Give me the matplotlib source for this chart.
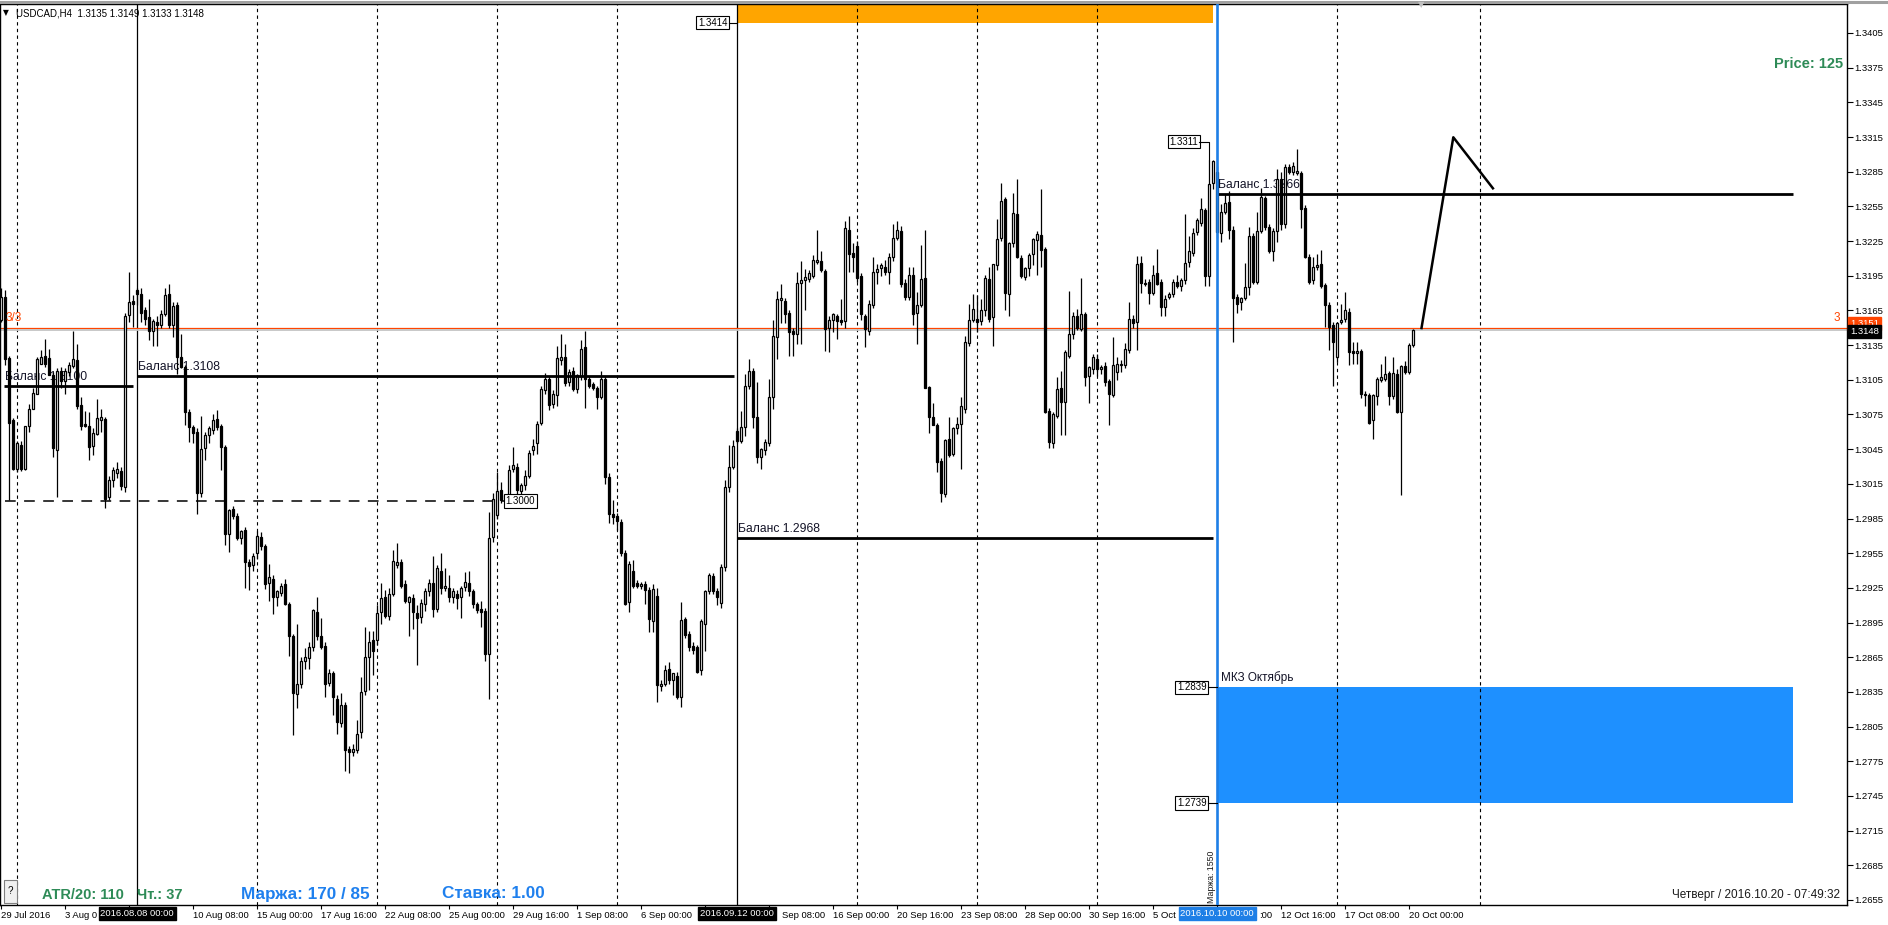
import numpy as np
import matplotlib
matplotlib.use('Agg')
import matplotlib.pyplot as plt
from matplotlib.patches import Rectangle

plt.rcParams['font.family'] = ['Liberation Sans', 'DejaVu Sans']

W, H = 1888, 925

# ---------------- data: USDCAD H4 candles, prices in 1e-4 units ----------------
opens = [
    13157,13177,13124,13070,13028,13049,13028,13065,13080,13093,
    13119,13126,13124,13109,13044,13113,13104,13112,13117,13122,
    13083,13067,13065,13048,13058,13070,13071,13004,13018,13024,
    13026,13012,13161,13173,13183,13179,13165,13159,13147,13155,
    13152,13162,13179,13152,13170,13125,13116,13077,13064,13060,
    13007,13046,13057,13062,13071,13065,13047,12972,12993,12987,
    12968,12975,12947,12945,12955,12969,12961,12929,12933,12917,
    12921,12928,12911,12883,12833,12842,12862,12864,12874,12904,
    12883,12875,12843,12851,12829,12808,12824,12786,12783,12785,
    12800,12836,12865,12880,12880,12904,12917,12901,12920,12945,
    12947,12928,12913,12916,12903,12900,12911,12922,12929,12907,
    12940,12925,12925,12917,12920,12917,12926,12929,12922,12911,
    12907,12905,12868,12969,12988,13010,13001,13003,13028,13030,
    13009,13014,13022,13044,13050,13068,13096,13106,13084,13092,
    13122,13125,13103,13113,13097,13108,13133,13106,13101,13098,
    13090,13106,13021,12989,12987,12982,12955,12913,12940,12929,
    12927,12928,12923,12896,12918,12840,12842,12855,12845,12849,
    12831,12898,12885,12875,12874,12854,12894,12922,12935,12922,
    12912,12943,13012,13030,13061,13052,13064,13100,13113,13073,
    13038,13044,13050,13090,13142,13174,13173,13163,13147,13145,
    13189,13191,13192,13195,13207,13208,13199,13150,13157,13160,
    13157,13156,13235,13215,13221,13195,13160,13147,13170,13198,
    13202,13203,13198,13211,13228,13234,13189,13177,13196,13163,
    13170,13193,13099,13073,13066,13035,13006,13054,13041,13063,
    13067,13080,13137,13157,13158,13156,13165,13192,13159,13204,
    13228,13261,13179,13223,13248,13210,13194,13202,13214,13226,
    13230,13218,13078,13050,13074,13098,13086,13126,13145,13160,
    13149,13162,13108,13114,13123,13114,13117,13104,13092,13112,
    13118,13118,13131,13158,13155,13206,13189,13190,13180,13197,
    13190,13168,13177,13179,13190,13186,13191,13207,13215,13233,
    13241,13252,13195,13275,13285,13232,13250,13259,13235,13177,
    13172,13176,13185,13229,13190,13234,13262,13237,13216,13234,
    13279,13240,13289,13285,13284,13284,13254,13211,13191,13203,
    13205,13187,13170,13152,13125,13155,13158,13164,13130,13128,
    13130,13093,13092,13070,13091,13105,13106,13111,13091,13110,
    13077,13117,13112,13135,
]
highs = [
    13184,13183,13126,13072,13052,13052,13065,13084,13098,13125,
    13131,13140,13132,13112,13115,13116,13115,13120,13147,13136,
    13090,13078,13077,13063,13088,13080,13073,13022,13030,13034,
    13030,13163,13198,13178,13184,13184,13168,13175,13158,13160,
    13165,13184,13188,13172,13172,13145,13118,13080,13066,13063,
    13074,13060,13065,13075,13079,13067,13049,12993,12996,12990,
    12975,12978,12950,12955,12974,12973,12963,12946,12936,12923,
    12929,12933,12913,12885,12894,12865,12873,12878,12907,12917,
    12899,12878,12855,12853,12832,12834,12826,12788,12790,12811,
    12848,12891,12888,12888,12910,12929,12923,12925,12958,12964,
    12950,12932,12918,12920,12910,12915,12925,12933,12953,12945,
    12955,12942,12936,12925,12923,12927,12939,12940,12924,12913,
    12914,12908,12991,13007,13025,13017,13006,13031,13047,13033,
    13016,13027,13044,13054,13069,13100,13111,13108,13096,13134,
    13145,13136,13114,13116,13110,13139,13147,13108,13103,13100,
    13113,13108,13024,13001,12990,12985,12958,12948,12949,12932,
    12930,12931,12926,12928,12925,12845,12858,12861,12851,12852,
    12913,12900,12888,12878,12876,12898,12923,12938,12938,12925,
    12946,13018,13049,13053,13063,13078,13110,13123,13115,13103,
    13046,13054,13106,13157,13182,13188,13176,13165,13150,13198,
    13208,13201,13200,13213,13235,13216,13201,13160,13163,13162,
    13175,13242,13247,13223,13225,13197,13162,13174,13211,13205,
    13206,13209,13215,13240,13242,13238,13192,13203,13203,13181,
    13222,13235,13100,13085,13068,13037,13054,13073,13064,13073,
    13090,13143,13171,13179,13178,13175,13196,13203,13205,13244,
    13275,13263,13224,13267,13279,13213,13203,13215,13228,13234,
    13270,13220,13081,13077,13107,13113,13131,13182,13164,13166,
    13193,13164,13117,13127,13127,13118,13120,13106,13142,13125,
    13122,13137,13172,13161,13212,13212,13192,13192,13204,13218,
    13192,13178,13181,13192,13196,13193,13248,13229,13236,13245,
    13262,13254,13295,13295,13290,13257,13266,13268,13238,13179,
    13177,13206,13237,13232,13250,13271,13264,13240,13236,13287,
    13285,13292,13292,13293,13305,13286,13256,13214,13211,13214,
    13217,13189,13172,13155,13155,13171,13181,13167,13138,13138,
    13132,13095,13094,13093,13107,13119,13126,13113,13125,13114,
    13118,13121,13137,13149,
]
lows = [
    13155,13118,13001,13027,13025,13026,13027,13060,13080,13093,
    13119,13116,13109,13038,13004,13098,13093,13108,13115,13080,
    13062,13064,13036,13040,13057,13060,12994,13001,13012,13020,
    13010,13008,13155,13151,13170,13155,13152,13139,13134,13134,
    13150,13160,13150,13142,13110,13115,13066,13051,13050,12989,
    13004,13036,13050,13058,13062,13027,12962,12956,12985,12966,
    12963,12925,12923,12940,12950,12958,12924,12914,12902,12909,
    12918,12910,12866,12798,12821,12838,12855,12855,12870,12880,
    12872,12831,12840,12815,12799,12805,12767,12765,12780,12782,
    12795,12832,12837,12850,12876,12894,12899,12897,12918,12942,
    12925,12912,12883,12889,12858,12895,12905,12918,12900,12904,
    12920,12922,12913,12912,12907,12899,12922,12918,12908,12903,
    12891,12862,12829,12965,12985,12998,12995,13000,13025,13005,
    13005,13010,13020,13040,13041,13066,13093,13079,13081,13082,
    13118,13100,13100,13095,13094,13105,13081,13098,13096,13080,
    13088,13015,12981,12980,12975,12953,12910,12904,12925,12925,
    12924,12911,12887,12887,12826,12836,12840,12842,12832,12829,
    12822,12882,12870,12868,12851,12850,12870,12920,12920,12910,
    12908,12940,13008,13028,13050,13050,13056,13097,13063,13033,
    13028,13040,13048,13080,13123,13154,13154,13126,13126,13136,
    13136,13165,13190,13193,13205,13198,13130,13129,13146,13140,
    13152,13150,13198,13198,13190,13157,13133,13144,13167,13188,
    13195,13196,13188,13208,13226,13185,13174,13174,13152,13136,
    13168,13098,13059,13066,13025,12999,13004,13038,13039,13058,
    13028,13076,13134,13155,13146,13152,13160,13155,13134,13200,
    13225,13165,13160,13220,13210,13193,13191,13195,13204,13196,
    13203,13076,13046,13046,13072,13057,13057,13124,13140,13148,
    13147,13100,13085,13110,13108,13110,13100,13066,13090,13105,
    13112,13115,13128,13150,13131,13180,13186,13171,13178,13187,
    13160,13160,13175,13177,13184,13182,13188,13203,13212,13230,
    13238,13186,13186,13270,13228,13224,13248,13227,13138,13163,
    13165,13174,13178,13188,13188,13232,13235,13215,13208,13224,
    13235,13236,13283,13282,13282,13236,13210,13188,13188,13200,
    13184,13151,13131,13100,13120,13153,13155,13118,13119,13119,
    13089,13082,13067,13054,13083,13103,13104,13083,13088,13076,
    13005,13110,13110,13133,
]
closes = [
    13177,13123,13068,13028,13050,13028,13065,13080,13094,13123,
    13125,13119,13109,13046,13113,13104,13113,13118,13123,13082,
    13065,13065,13047,13059,13072,13073,13002,13018,13027,13028,
    13013,13160,13172,13171,13179,13163,13158,13147,13156,13152,
    13162,13178,13152,13169,13125,13116,13077,13064,13059,13007,
    13045,13057,13063,13070,13064,13047,12972,12992,12987,12968,
    12974,12947,12944,12953,12970,12961,12928,12934,12917,12922,
    12927,12911,12883,12834,12842,12862,12865,12874,12906,12883,
    12874,12842,12851,12831,12809,12824,12785,12783,12786,12799,
    12835,12865,12878,12870,12903,12916,12901,12920,12948,12947,
    12927,12914,12917,12904,12899,12912,12922,12929,12907,12942,
    12925,12927,12917,12922,12916,12925,12930,12922,12911,12906,
    12904,12868,12968,13002,13009,13001,13005,13027,13031,13010,
    13014,13022,13042,13048,13067,13097,13106,13083,13093,13124,
    13125,13102,13112,13097,13109,13132,13106,13100,13098,13090,
    13106,13021,12989,12986,12983,12955,12911,12946,12927,12927,
    12928,12923,12898,12924,12841,12842,12854,12845,12851,12831,
    12897,12884,12874,12871,12852,12896,12922,12936,12922,12917,
    12943,13012,13030,13048,13052,13064,13100,13113,13073,13038,
    13045,13051,13090,13143,13175,13176,13162,13146,13145,13189,
    13191,13194,13197,13209,13209,13200,13149,13157,13162,13156,
    13155,13236,13214,13211,13193,13162,13149,13171,13198,13201,
    13204,13198,13211,13228,13235,13188,13177,13196,13162,13170,
    13192,13098,13073,13066,13034,13007,13053,13040,13063,13067,
    13082,13138,13157,13166,13155,13165,13193,13158,13205,13227,
    13260,13180,13223,13249,13211,13195,13202,13213,13227,13231,
    13217,13077,13051,13075,13097,13086,13129,13145,13160,13150,
    13162,13107,13116,13125,13114,13116,13103,13093,13118,13119,
    13119,13132,13158,13154,13205,13189,13188,13180,13196,13188,
    13168,13175,13179,13190,13186,13191,13206,13216,13232,13243,
    13253,13195,13274,13294,13233,13250,13258,13235,13176,13171,
    13176,13185,13229,13190,13234,13263,13237,13216,13234,13279,
    13240,13289,13285,13290,13286,13253,13211,13190,13203,13204,
    13186,13170,13151,13138,13154,13157,13165,13129,13128,13130,
    13093,13092,13068,13092,13106,13107,13110,13091,13111,13077,
    13117,13112,13135,13148,
]

# time axis labels (every 16 H4 bars); labels partly covered by the date tags
time_label_bars = list(range(0, 353, 16))
time_labels = ["29 Jul 2016", "3 Aug 0", "", "10 Aug 08:00", "15 Aug 00:00",
               "17 Aug 16:00", "22 Aug 08:00", "25 Aug 00:00", "29 Aug 16:00", "1 Sep 08:00",
               "6 Sep 00:00", "", "", "16 Sep 00:00", "20 Sep 16:00",
               "23 Sep 08:00", "28 Sep 00:00", "30 Sep 16:00", "5 Oct", "",
               "12 Oct 16:00", "17 Oct 08:00", "20 Oct 00:00"]
partial_labels = [(195.2, "Sep 08:00"), (314.4, ":00")]

price_ticks = [1.2655 + 0.003 * k for k in range(26)]

week_separators = [4, 64, 94, 124, 154, 214, 244, 274, 334, 369.7]
solid_vlines = [34, 184]
blue_vline = 304
vline_tags = [(34, "2016.08.08 00:00", "black"), (184, "2016.09.12 00:00", "black"),
              (304, "2016.10.10 00:00", "#1E7FE6")]

balances = [(0.7, 33.0, 1.3100, "Баланс 1.3100"), (34.0, 183.2, 1.3108, "Баланс 1.3108"),
            (184.0, 302.8, 1.2968, "Баланс 1.2968"), (304.0, 448.0, 1.3266, "Баланс 1.3266")]
level_3000 = 1.3000
red_level = 1.3150
bid = 1.3148
orange_zone = (184.0, 302.8, 1.3414, 1.3460)
blue_zone = (304.0, 448.0, 1.2739, 1.2839)
forecast_x = [355.0, 363.0, 373.1]
forecast_p = [1.31487, 1.33148, 1.32698]

# ---------------- figure ----------------
fig = plt.figure(figsize=(W / 100, H / 100), dpi=100)
fig.patch.set_facecolor('white')
ax = fig.add_axes([0, 20 / H, 1847 / W, 901 / H])
ax.set_facecolor('white')

x0, x1 = -1.3 / 4, (1847 - 1.3) / 4
ax.set_xlim(x0, x1)
ax.set_ylim(1.3405 - 872 / 11560, 1.3405 + 29 / 11560)

O = np.array(opens) / 1e4
Hh = np.array(highs) / 1e4
L = np.array(lows) / 1e4
C = np.array(closes) / 1e4
n = len(C)
xs = np.arange(n)
up = C >= O

# zones
rx0, rx1, ry0, ry1 = orange_zone
ax.add_patch(Rectangle((rx0, ry0), rx1 - rx0, ry1 - ry0, facecolor='#FFA500', edgecolor='none', zorder=1))
bx0, bx1, by0, by1 = blue_zone
ax.add_patch(Rectangle((bx0, by0), bx1 - bx0, by1 - by0, facecolor='#1E90FF', edgecolor='none', zorder=1))

# vertical lines
for v in week_separators:
    ax.axvline(v, color='black', lw=0.8, ls=(0, (3, 3)), zorder=1)
for v in solid_vlines:
    ax.axvline(v, color='black', lw=0.9, zorder=1)
ax.axvline(blue_vline, color='#1E7FE6', lw=1.9, zorder=6)

# horizontal price lines
ax.axhline(red_level, color='#FF4500', lw=0.9, zorder=2)
ax.axhline(bid, color='#C4C4C4', lw=1.3, zorder=2)

# balance texts under candles
for (a, b, p, lab) in balances:
    ax.text(a + 0.3, p + 0.00078, lab, fontsize=8.7, color='#141428', ha='left', va='center', zorder=2)

# candles
ax.vlines(xs, L, Hh, colors='black', linewidth=0.9, zorder=3)
body_lo = np.minimum(O, C)
body_h = np.maximum(np.abs(C - O), 0.00002)
ax.bar(xs, body_h, bottom=body_lo, width=0.55, color=np.where(up, 'white', 'black'),
       edgecolor='black', linewidth=0.9, zorder=4)

# balance lines
for (a, b, p, lab) in balances:
    ax.hlines(p, a, b, color='black', lw=2.0, zorder=5)
ax.hlines(level_3000, 0.8, 125.7, color='black', lw=1.1, linestyles=(0, (7, 5.5)), zorder=5)

# forecast polyline
ax.plot(forecast_x, forecast_p, color='black', lw=1.8, zorder=6, solid_capstyle='butt')

# price tag boxes
tag_box = dict(boxstyle='square,pad=0.18', fc='white', ec='black', lw=0.8)
def tag(xp, p, s, ha):
    ax.text(xp, p, s, fontsize=7, ha=ha, va='center', bbox=tag_box, zorder=8, clip_on=False)

tag(181.6, 1.3414, "1.3414", 'right')
ax.plot([181.9, 184], [1.3414, 1.3414], color='black', lw=0.8, zorder=8)
tag(299.2, 1.3311, "1.3311", 'right')
ax.plot([299.5, 302, 302], [1.3311, 1.3311, 1.32955], color='black', lw=0.8, zorder=8)
tag(126.0, level_3000, "1.3000", 'left')
tag(301.3, 1.2839, "1.2839", 'right')
ax.plot([301.7, 304], [1.2839, 1.2839], color='black', lw=0.8, zorder=8)
tag(301.3, 1.2739, "1.2739", 'right')
ax.plot([301.7, 304], [1.2739, 1.2739], color='black', lw=0.8, zorder=8)

ax.text(305.0, 1.2839 + 0.00085, "МКЗ Октябрь", fontsize=8.5, color='#141428', ha='left', va='center', zorder=8)

# axes styling
for s in ax.spines.values():
    s.set_color('black')
    s.set_linewidth(1.0)
ax.yaxis.tick_right()
ax.set_yticks(price_ticks)
ax.set_yticklabels([f"{t:.4f}" for t in price_ticks])
ax.tick_params(axis='y', which='both', left=False, right=True, labelleft=False, labelright=True,
               direction='out', length=4, width=0.8, pad=1.5, labelsize=6.8, colors='black')
ax.set_xticks(time_label_bars)
ax.set_xticklabels(time_labels)
ax.tick_params(axis='x', direction='out', length=3, width=0.8, pad=1.5, labelsize=6.8)
for t in ax.get_xticklabels():
    t.set_horizontalalignment('left')

xt = ax.get_xaxis_transform()
for (v, s) in partial_labels:
    ax.text(v, -0.0065, s, transform=xt, fontsize=6.8, ha='left', va='top', clip_on=False)

# highlighted time tags on x axis
for (v, s, col) in vline_tags:
    ax.text(v, -0.0045, s, transform=xt, fontsize=6.8, color='white', ha='center', va='top',
            bbox=dict(boxstyle='square,pad=0.2', fc=col, ec=col), zorder=20, clip_on=False)

# ---------------- figure-level texts ----------------
def fx(px):
    return px / W
def fy(py):
    return 1 - py / H

fig.add_artist(plt.Line2D([0, 1], [fy(1.5), fy(1.5)], color='#A0A0A0', lw=2.2))
fig.text(fx(3), fy(13), "▼", fontsize=5.5, family=['DejaVu Sans'], va='center', ha='left')
fig.text(fx(16), fy(13), "USDCAD,H4  1.3135 1.3149 1.3133 1.3148", fontsize=7, va='center', ha='left')
fig.text(fx(1421), fy(5), "▼", fontsize=6, family=['DejaVu Sans'], color='#C0C0C0', va='center', ha='center')

fig.text(fx(1843), fy(64), "Price: 125", fontsize=10.5, fontweight='bold', color='#2E8B57', ha='right', va='center')
fig.text(fx(42), fy(895), "ATR/20: 110", fontsize=10.5, fontweight='bold', color='#2E8B57', ha='left', va='center')
fig.text(fx(137), fy(895), "Чт.: 37", fontsize=10.5, fontweight='bold', color='#2E8B57', ha='left', va='center')
fig.text(fx(241), fy(894), "Маржа: 170 / 85", fontsize=12.3, fontweight='bold', color='#1F80EE', ha='left', va='center')
fig.text(fx(442), fy(894), "Ставка: 1.00", fontsize=12.3, fontweight='bold', color='#1F80EE', ha='left', va='center')
fig.text(fx(1840), fy(895), "Четверг / 2016.10.20 - 07:49:32", fontsize=8.5, color='#1a1a1a', ha='right', va='center')
fig.text(fx(1211), fy(903), "Маржа: 1550", fontsize=6.3, rotation=90, color='#1a1a1a', ha='center', va='bottom')

fig.text(fx(6), fy(318), "3/3", fontsize=8.5, color='#FF4500', ha='left', va='center')
fig.text(fx(1837), fy(318), "3", fontsize=8.5, color='#FF4500', ha='center', va='center')

fig.text(fx(1850), fy(323.5), "1.3151", fontsize=6.8, color='white', ha='left', va='center',
         bbox=dict(boxstyle='square,pad=0.2', fc='#FF4500', ec='#FF4500'))
fig.text(fx(1850), fy(331.5), "1.3148", fontsize=6.8, color='white', ha='left', va='center',
         bbox=dict(boxstyle='square,pad=0.2', fc='black', ec='black'))

fig.add_artist(Rectangle((fx(4), fy(903)), 13 / W, 23 / H, facecolor='#F0F0F0', edgecolor='#808080', lw=0.8))
fig.text(fx(10.5), fy(891.5), "?", fontsize=7, ha='center', va='center')

fig.savefig('out.png', dpi=100)
